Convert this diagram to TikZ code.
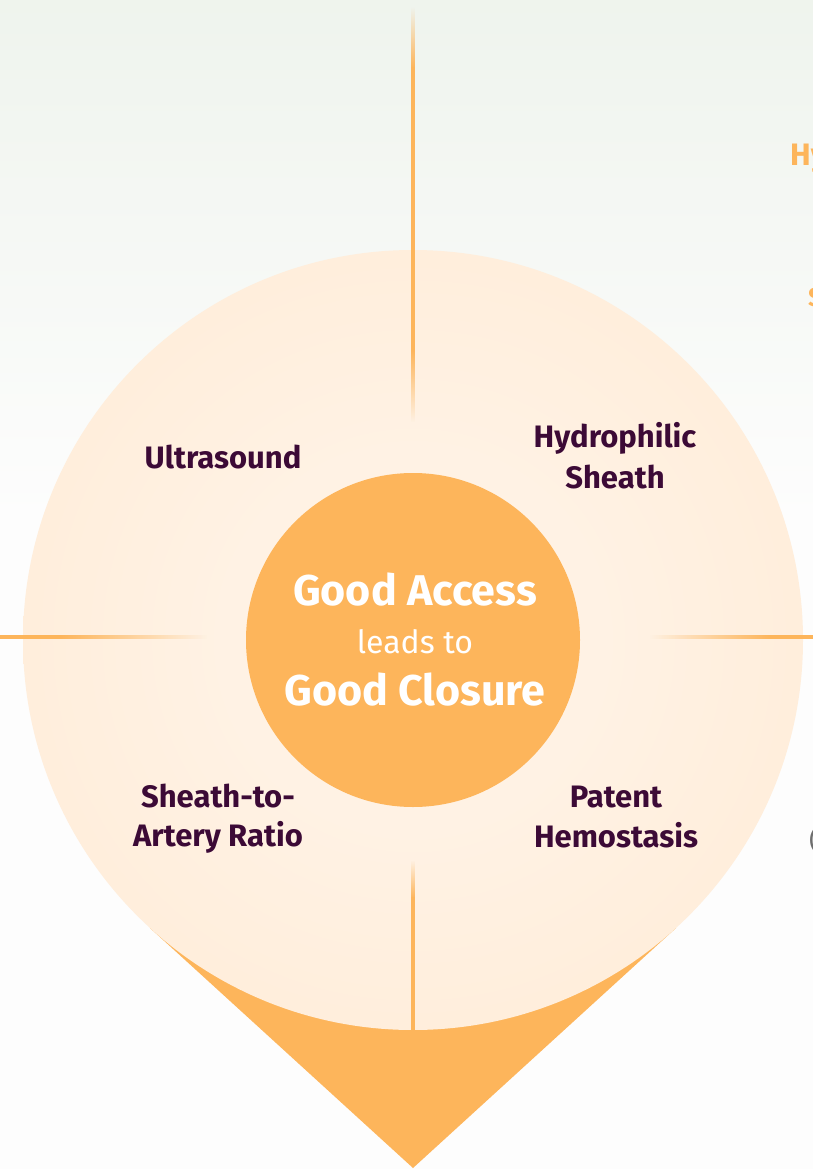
\documentclass[tikz,border=0pt]{standalone}
\usepackage{fontspec}
\setmainfont{Fira Sans}
\usetikzlibrary{fadings}
\definecolor{pinorange}{RGB}{253,181,91}
\definecolor{plum}{RGB}{60,10,54}
\definecolor{bgtop}{RGB}{233,240,231}
\definecolor{bgbot}{RGB}{253,253,253}
\definecolor{ringin}{RGB}{255,242,228}
\definecolor{ringout}{RGB}{254,230,204}
\definecolor{edgegray}{RGB}{110,110,110}
\pgfdeclareradialshading{ringshade}{\pgfpoint{0bp}{0bp}}{color(0bp)=(ringin); color(12bp)=(ringin); color(50bp)=(ringout)}
\tikzfading[name=fadeN, top color=transparent!100, bottom color=transparent!0]
\tikzfading[name=fadeS, top color=transparent!0, bottom color=transparent!100]
\tikzfading[name=fadeE, left color=transparent!0, right color=transparent!100]
\tikzfading[name=fadeW, left color=transparent!100, right color=transparent!0]
\tikzset{
  label/.style={font=\fontsize{31}{31}\selectfont\bfseries, text=plum, inner sep=0pt, anchor=base},
  hubtext/.style={font=\fontsize{43}{43}\selectfont\bfseries, text=white, inner sep=0pt, anchor=base},
  spoke/.style={fill=pinorange},
}
\begin{document}
\begin{tikzpicture}[x=1pt,y=-1pt]
\useasboundingbox (0,0) rectangle (813,1169);
\begin{scope}
\clip (0,0) rectangle (813,1169);
% background
\fill[bgbot] (0,0) rectangle (813,1169);
\shade[top color=bgtop, bottom color=bgbot] (0,-200) rectangle (813,520);
% pin tip
\coordinate (tip) at (413,1168);
\fill[pinorange] (150,928) -- (tip) -- (676,928) -- cycle;
% ring
\node[circle, minimum size=780pt, inner sep=0pt, shading=ringshade] (ring) at (413,640) {};
% spokes: top
\fill[spoke, path fading=fadeN] (411,7) rectangle (415,68);
\fill[spoke] (411,67) rectangle (415,351);
\fill[spoke, path fading=fadeS] (411,350) rectangle (415,422);
% spokes: bottom
\fill[spoke, path fading=fadeN] (411,860) rectangle (415,898);
\fill[spoke] (411,897) rectangle (415,1032);
% spokes: left
\fill[spoke] (-5,635) rectangle (61,639);
\fill[spoke, path fading=fadeE] (60,635) rectangle (207,639);
% spokes: right
\fill[spoke, path fading=fadeW] (650,635) rectangle (771,639);
\fill[spoke] (770,635) rectangle (818,639);
% hub
\node[circle, fill=pinorange, minimum size=334pt, inner sep=0pt] (hub) at (413,640) {};
\node[hubtext] (ga) at (415,605) {Good Access};
\node[hubtext, font=\fontsize{32}{32}\selectfont] (lt) at (415,653) {leads to};
\node[hubtext] (gc) at (415,705) {Good Closure};
% labels
\node[label] (us) at (223,468) {Ultrasound};
\node[label] (hs1) at (615,447) {Hydrophilic};
\node[label] (hs2) at (615,488) {Sheath};
\node[label] (sa1) at (218,807) {Sheath-to-};
\node[label] (sa2) at (218,846) {Artery Ratio};
\node[label] (ph1) at (616,807) {Patent};
\node[label] (ph2) at (616,847) {Hemostasis};
% clipped neighbours at the right edge
\node[font=\fontsize{31}{31}\selectfont\bfseries, text=pinorange, inner sep=0pt, anchor=base west] (nb1) at (790,166) {Hy};
\node[font=\fontsize{26}{26}\selectfont\bfseries, text=pinorange, inner sep=0pt, anchor=base west] (nb2) at (808,306) {S};
\node[font=\fontsize{26}{26}\selectfont, text=edgegray, inner sep=0pt, anchor=base west] (nb3) at (809,849) {(};
\end{scope}
\end{tikzpicture}
\end{document}
